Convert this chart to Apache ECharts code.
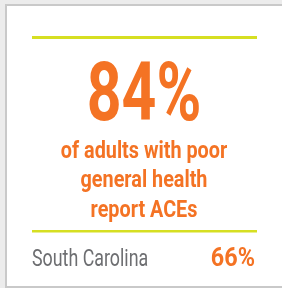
<!DOCTYPE html>
<html>
<head>
<meta charset="utf-8">
<script src="https://cdn.jsdelivr.net/npm/echarts@6/dist/echarts.min.js"></script>
<style>
  html, body { margin: 0; padding: 0; background: #ececec; }
  #chart { width: 282px; height: 288px; }
</style>
</head>
<body>
<div id="chart"></div>
<script>
// 卡片数据
const mainValue = [84];
const captionLines = ['of adults with poor', 'general health', 'report ACEs'];
const stateNames = ['South Carolina'];
const stateValues = [66];

const ORANGE = '#f47324';
const LIME = '#d6df22';
const GRAY = '#6d6e71';

const chart = echarts.init(document.getElementById('chart'));

// 说明文字，每行一个文本元素
const captionY = [151.5, 181, 210.5];
const captionTexts = captionLines.map((line, i) => ({
    type: 'text',
    x: 144,
    y: captionY[i],
    scaleX: 0.825,
    style: {
        text: line,
        font: 'bold 24px Roboto',
        fill: ORANGE,
        align: 'center',
        verticalAlign: 'middle'
    }
}));

const option = {
    backgroundColor: '#ececec',
    graphic: [
        // 卡片背景与边框
        {
            type: 'rect',
            shape: { x: 6, y: 5, width: 290, height: 282 },
            style: { fill: '#fff', stroke: '#c9c9c9', lineWidth: 2 }
        },
        // 上方分隔线
        {
            type: 'rect',
            shape: { x: 32, y: 36, width: 225, height: 3 },
            style: { fill: LIME }
        },
        // 主数字
        {
            type: 'text',
            x: 144,
            y: 99,
            scaleX: 0.74,
            style: {
                text: mainValue[0] + '%',
                font: 'bold 82px Roboto',
                fill: ORANGE,
                align: 'center',
                verticalAlign: 'middle'
            }
        },
        ...captionTexts,
        // 下方分隔线
        {
            type: 'rect',
            shape: { x: 32, y: 230, width: 225, height: 2.5 },
            style: { fill: LIME }
        },
        // 州名与比例
        {
            type: 'text',
            x: 32,
            y: 260.6,
            scaleX: 0.775,
            style: {
                text: stateNames[0],
                font: '23px Roboto',
                fill: GRAY,
                align: 'left',
                verticalAlign: 'middle'
            }
        },
        {
            type: 'text',
            x: 255,
            y: 259.3,
            scaleX: 0.9,
            style: {
                text: stateValues[0] + '%',
                font: 'bold 26px Roboto',
                fill: ORANGE,
                align: 'right',
                verticalAlign: 'middle'
            }
        }
    ]
};

option && chart.setOption(option);
</script>
</body>
</html>
